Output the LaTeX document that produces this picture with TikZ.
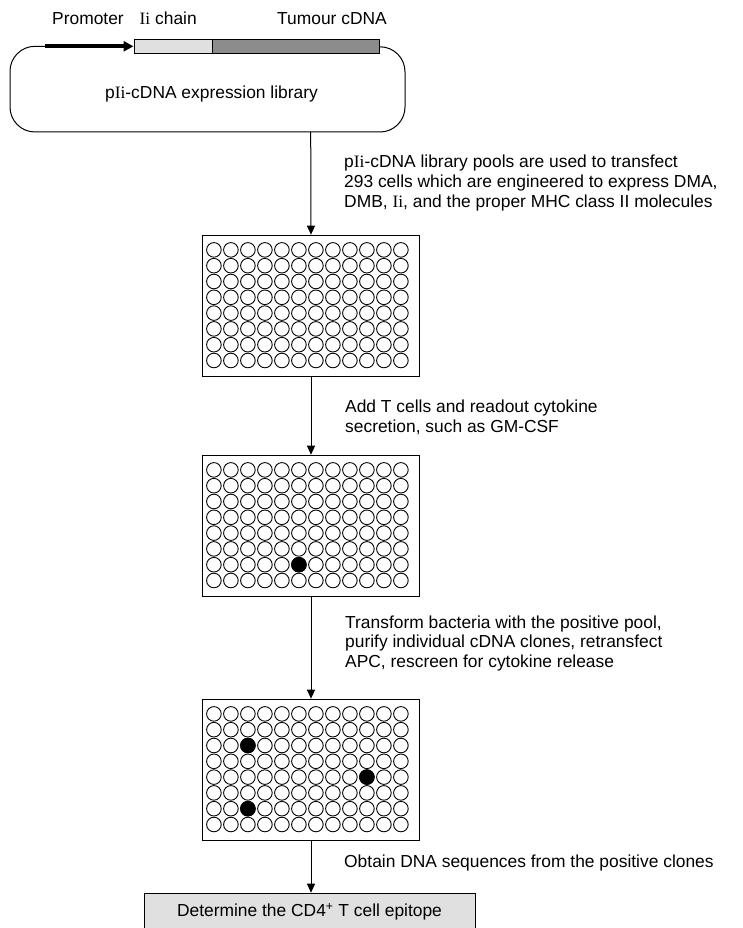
\documentclass[tikz,border=0pt]{standalone}
\usepackage{fontspec}
\setmainfont{Liberation Sans}
\newfontfamily\serifI{Liberation Serif}
\usetikzlibrary{arrows.meta}
\definecolor{lightg}{HTML}{E0E0E0}
\definecolor{darkg}{HTML}{8C8C8C}
\begin{document}
\begin{tikzpicture}[x=1pt,y=-1pt,
  txt/.style={font=\fontsize{17.4pt}{19.6pt}\selectfont, inner sep=0pt},
  steptxt/.style={txt, align=left, anchor=base west},
  seg/.style={draw, line width=0.9pt, minimum height=14.3pt, inner sep=0pt},
  plate/.style={draw, line width=1.2pt, fill=white, minimum width=216.6pt, minimum height=141.4pt, inner sep=0pt},
  well/.style={draw, line width=0.9pt},
  arr/.style={line width=1pt, -{Triangle[length=9pt,width=8pt]}},
]
\useasboundingbox (0,0) rectangle (742,928);

% plasmid
\node[txt, anchor=base west] (lprom) at (52,25) {Promoter};
\node[txt, anchor=base west] (lii) at (139.5,25) {{\serifI Ii} chain};
\node[txt, anchor=base west] (ltum) at (277,25) {Tumour cDNA};
\node[seg, fill=lightg, minimum width=78.3pt] (ii) at (173.1,46.8) {};
\node[seg, fill=darkg, minimum width=167pt] (tum) at (295.5,46.8) {};
\coordinate (pstart) at (45,46.3);
\draw[line width=3.6pt, -{Triangle[length=10pt,width=10pt]}] (pstart) -- (ii.west |- pstart);
\draw[line width=1pt, rounded corners=25pt] (pstart) -- (10,46.3) -- (10,132) -- (405,132) -- (405,46.8) -- (tum.east);
\coordinate (plasbot) at (310.7,132);
\node[txt, anchor=base] (lib) at (211.5,99) {p{\serifI Ii}-cDNA expression library};

% plates
\node[plate] (p1) at (311,306) {};
\node[plate] (p2) at (311,526) {};
\node[plate] (p3) at (311,770) {};
\foreach \p in {p1,p2,p3}
  \foreach \r in {0,...,7}
    \foreach \c in {0,...,11}
      \draw[well] ([shift={(11.8+17*\c,15.2+15.8*\r)}]\p.north west) circle (7.3pt);
\draw[well, fill=black] ([shift={(11.8+17*5,15.2+15.8*6)}]p2.north west) circle (7.3pt);
\draw[well, fill=black] ([shift={(11.8+17*2,15.2+15.8*2)}]p3.north west) circle (7.3pt);
\draw[well, fill=black] ([shift={(11.8+17*9,15.2+15.8*4)}]p3.north west) circle (7.3pt);
\draw[well, fill=black] ([shift={(11.8+17*2,15.2+15.8*6)}]p3.north west) circle (7.3pt);

% final box
\node[draw, line width=1pt, fill=lightg, txt, minimum width=331pt, minimum height=37pt, anchor=north] (bot) at (309.5,892.7) {Determine the CD4\textsuperscript{+} T cell epitope};

% connectors
\draw[arr] (plasbot) -- (p1.north);
\draw[arr] (p1.south) -- (p2.north);
\draw[arr] (p2.south) -- (p3.north);
\draw[arr] (p3.south) -- (p3.south |- bot.north);

% step texts (anchor = baseline of last line)
\node[steptxt] (t1) at (344,207) {p{\serifI Ii}-cDNA library pools are used to transfect\\293 cells which are engineered to express DMA,\\DMB, {\serifI Ii}, and the proper MHC class II molecules};
\node[steptxt] (t2) at (345,432) {Add T cells and readout cytokine\\secretion, such as GM-CSF};
\node[steptxt] (t3) at (345,667.3) {Transform bacteria with the positive pool,\\purify individual cDNA clones, retransfect\\APC, rescreen for cytokine release};
\node[steptxt] (t4) at (344,867.3) {Obtain DNA sequences from the positive clones};
\end{tikzpicture}
\end{document}
